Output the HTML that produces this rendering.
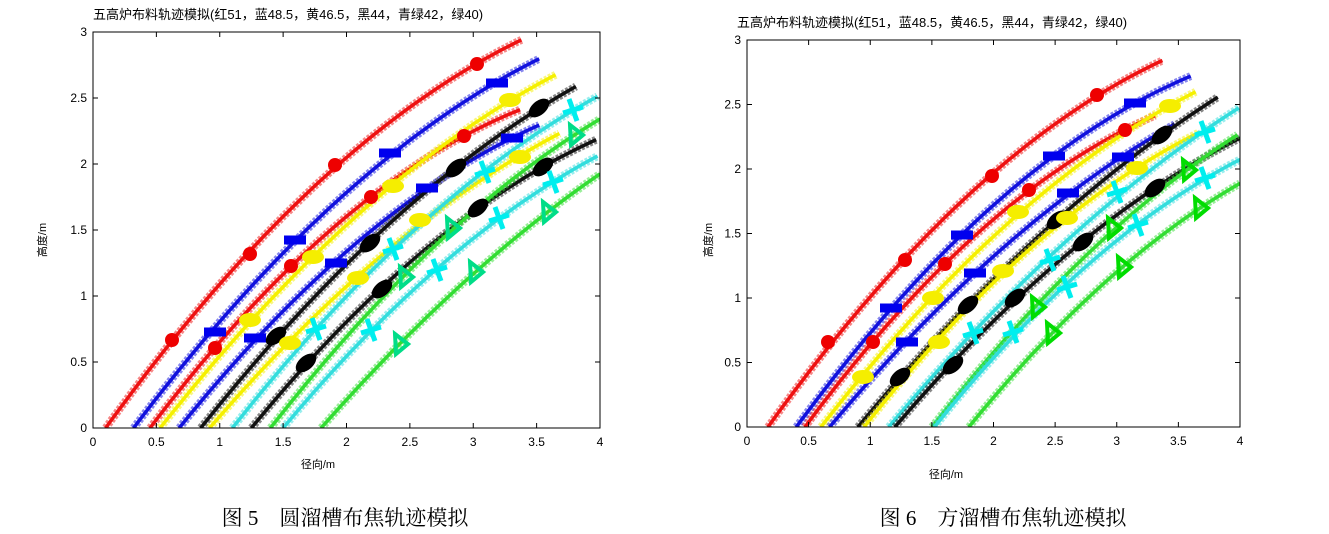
<!DOCTYPE html>
<html><head><meta charset="utf-8"><style>
body{margin:0;background:#fff;width:1329px;height:534px;overflow:hidden}
svg{position:absolute;left:0;top:0}
text{font-family:"Liberation Sans","Noto Sans CJK SC",sans-serif}
</style></head><body>
<svg id="s" width="1329" height="534" xmlns="http://www.w3.org/2000/svg"></svg>
<script>
const S=document.getElementById('s');let h='';
const cols={r:'#ee1111',b:'#1111dd',y:'#f5f000',k:'#111111',c:'#33dddd',g:'#33dd33'};
function chart(X0,X1,Y0,Y1,curves,title,tx,ty,xl,yl,gcol){
 const sx=(X1-X0)/4, sy=(Y0-Y1)/3;
 const px=x=>X0+x*sx, py=y=>Y0-y*sy;
 h+=`<clipPath id="c${X0}"><rect x="${X0}" y="${Y1}" width="${X1-X0}" height="${Y0-Y1}"/></clipPath><g clip-path="url(#c${X0})">`;
 curves.forEach(cv=>{const [t,x0,xe,ms]=cv;
  let A=0,B=0,C=0,D=0,E=0;
  ms.forEach(m=>{const x=(m[0]-X0)/sx,y=(Y0-m[1])/sy,d=x-x0;A+=d*d;B+=d*d*d;C+=d*d*d*d;D+=d*y;E+=d*d*y;});
  const det=A*C-B*B;const a=(D*C-B*E)/det;const b=(A*(-E)+B*D)/det;
  let p=[];for(let x=x0;x<=xe+0.001;x+=0.04){const d=x-x0;p.push(px(x).toFixed(1)+','+py(a*d-b*d*d).toFixed(1));}
  const c=cols[t];
  h+=`<polyline points="${p.join(' ')}" fill="none" stroke="${c}" stroke-width="8" opacity="0.5" stroke-dasharray="3 1.5"/>`;
  h+=`<polyline points="${p.join(' ')}" fill="none" stroke="${c}" stroke-width="3.5"/>`;});
 h+='</g>';
 curves.forEach(cv=>{const t=cv[0];cv[3].forEach(m=>{const [x,y]=m;
  if(t=='r')h+=`<circle cx="${x}" cy="${y}" r="7" fill="#ee0000"/>`;
  if(t=='b')h+=`<rect x="${x-11}" y="${y-4.5}" width="22" height="9" fill="#0000ee"/>`;
  if(t=='y')h+=`<ellipse cx="${x}" cy="${y}" rx="11" ry="7" fill="#f5ee00"/>`;
  if(t=='k')h+=`<ellipse cx="${x}" cy="${y}" rx="12" ry="7" transform="rotate(-40 ${x} ${y})" fill="#000"/>`;
  if(t=='c')h+=`<path d="M${x-4} ${y-11}L${x+4} ${y+11}M${x-10} ${y+3}L${x+10} ${y-3}" stroke="#00eeee" stroke-width="5"/>`;
  if(t=='g')h+=`<path d="M${x-5} ${y-10}L${x+8} ${y}L${x-4} ${y+10}Z" fill="none" stroke="${gcol}" stroke-width="4"/>`;});});
 h+=`<rect x="${X0}" y="${Y1}" width="${X1-X0}" height="${Y0-Y1}" fill="none" stroke="#000" stroke-width="1"/>`;
 for(let i=0;i<=8;i++){const x=px(i*0.5);h+=`<line x1="${x}" y1="${Y0}" x2="${x}" y2="${Y0-5}" stroke="#000"/><line x1="${x}" y1="${Y1}" x2="${x}" y2="${Y1+5}" stroke="#000"/><text x="${x}" y="${Y0+18}" font-size="12" text-anchor="middle">${i*0.5}</text>`;}
 for(let i=0;i<=6;i++){const y=py(i*0.5);h+=`<line x1="${X0}" y1="${y}" x2="${X0+5}" y2="${y}" stroke="#000"/><line x1="${X1}" y1="${y}" x2="${X1-5}" y2="${y}" stroke="#000"/><text x="${X0-6}" y="${y+4}" font-size="12" text-anchor="end">${i*0.5}</text>`;}
 h+=`<text x="${tx}" y="${ty}" font-size="13">${title}</text>`;
 h+=`<text x="${xl[0]}" y="${xl[1]}" font-size="11" text-anchor="middle">径向/m</text>`;
 h+=`<text transform="translate(${yl[0]} ${yl[1]}) rotate(-90)" font-size="11" text-anchor="middle">高度/m</text>`;
}
const T='五高炉布料轨迹模拟(红51，蓝48.5，黄46.5，黑44，青绿42，绿40)';
chart(93,600,428,32,[
['r',0.1,3.4,[[172,340],[250,254],[335,165],[477,64]]],
['b',0.32,3.55,[[215,332],[295,240],[390,153],[497,83]]],
['r',0.45,3.38,[[215,348],[291,266],[371,197],[464,136]]],
['y',0.53,3.65,[[250,320],[313,257],[393,186],[510,100]]],
['b',0.68,3.52,[[255,338],[336,263],[427,188],[512,138]]],
['k',0.85,3.84,[[276,336],[370,243],[456,168],[539,108]]],
['y',0.92,3.7,[[290,343],[358,278],[420,220],[520,157]]],
['c',1.1,4,[[316,329],[393,249],[485,172],[573,110]]],
['k',1.25,4,[[306,363],[382,289],[478,208],[543,167]]],
['g',1.4,4,[[405,277],[452,228],[575,135]]],
['c',1.5,4,[[371,330],[437,270],[499,218],[553,182]]],
['g',1.8,4,[[400,344],[475,272],[548,212]]]
],T,93,19,[318,468],[46,240],'#00dd88');
chart(747,1240,427,40,[
['r',0.17,3.4,[[828,342],[905,260],[992,176],[1097,95]]],
['b',0.4,3.6,[[891,308],[962,235],[1054,156],[1135,103]]],
['r',0.47,3.32,[[873,342],[945,264],[1029,190],[1125,130]]],
['y',0.6,3.65,[[863,377],[933,298],[1018,212],[1170,106]]],
['b',0.67,3.5,[[907,342],[975,273],[1068,193],[1123,157]]],
['k',0.9,3.85,[[900,377],[968,305],[1057,220],[1162,135]]],
['y',0.95,3.7,[[939,342],[1003,271],[1067,218],[1137,168]]],
['c',1.15,4,[[973,333],[1050,260],[1117,192],[1205,132]]],
['k',1.2,4,[[953,365],[1015,298],[1083,242],[1155,188]]],
['g',1.5,4,[[1037,307],[1113,228],[1188,170]]],
['c',1.52,4,[[1013,332],[1067,287],[1138,225],[1205,178]]],
['g',1.8,4,[[1052,333],[1123,267],[1200,208]]]
],T,737,27,[946,478],[712,240],'#00dd00');
h+=`<text x="345" y="525" font-size="21" text-anchor="middle" style="font-family:'Liberation Serif','Noto Serif CJK SC',serif">图 5　圆溜槽布焦轨迹模拟</text>`;
h+=`<text x="1003" y="525" font-size="21" text-anchor="middle" style="font-family:'Liberation Serif','Noto Serif CJK SC',serif">图 6　方溜槽布焦轨迹模拟</text>`;
S.innerHTML=h;
</script>
</body></html>
